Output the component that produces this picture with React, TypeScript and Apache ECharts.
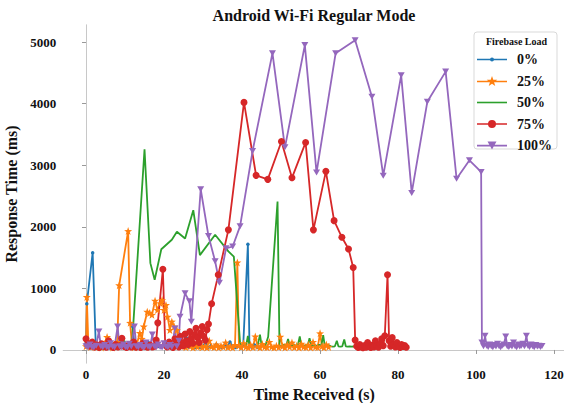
import React, { useEffect, useRef } from "react";
import * as echarts from "echarts";

const seriesNames = ["0%", "25%", "50%", "75%", "100%"];
const xTicks = [0, 20, 40, 60, 80, 100, 120];
const yTicks = [0, 1000, 2000, 3000, 4000, 5000];

const load0 = [
  [0, 110], [0.2, 750], [1.7, 1580], [2.5, 80], [3.2, 55], [3.9, 120], [4.6, 40], [5.3, 70], [6.0, 35], [6.8, 90],
  [7.5, 45], [8.2, 60], [8.9, 150], [9.6, 40], [10.3, 75], [11.0, 50], [11.6, 100], [12.0, 380], [12.4, 60], [13.1, 45],
  [13.8, 80], [14.5, 40], [15.2, 65], [15.9, 130], [16.6, 50], [17.3, 40], [18.0, 85], [18.7, 55], [19.4, 45], [20.1, 110],
  [20.8, 40], [21.5, 60], [22.2, 35], [22.9, 90], [23.6, 50], [24.3, 40], [25.0, 70], [25.7, 200], [26.4, 45], [27.1, 60],
  [27.8, 35], [28.5, 80], [29.2, 45], [29.9, 55], [30.6, 120], [31.3, 40], [32.0, 65], [32.7, 35], [33.4, 90], [34.1, 50],
  [34.8, 40], [35.5, 75], [36.2, 45], [36.9, 130], [37.6, 50], [38.3, 40], [39.0, 60], [39.7, 35], [40.3, 70], [41.5, 1715],
  [41.9, 60], [42.5, 45], [43.2, 80], [43.9, 40],
];

const load25 = [
  [0, 60], [0.2, 860], [0.6, 90], [1.2, 50], [1.9, 120], [2.6, 45], [3.3, 70], [4.0, 40], [4.7, 95], [5.4, 210],
  [6.1, 60], [6.8, 40], [7.5, 80], [8.0, 130], [8.5, 1050], [10.8, 1930], [11.3, 440], [11.8, 70], [12.4, 45], [13.0, 90],
  [13.8, 275], [14.3, 180], [14.8, 380], [15.7, 620], [16.3, 600], [16.9, 570], [17.7, 800], [18.3, 650], [19.0, 760], [19.5, 810],
  [20.0, 650], [20.5, 730], [20.9, 540], [21.5, 325], [22.0, 460], [22.6, 380], [23.3, 325], [23.8, 120], [24.4, 60], [25.0, 90],
  [25.6, 45], [26.2, 130], [26.8, 60], [27.4, 40], [28.0, 75], [28.6, 50], [29.2, 110], [29.8, 45], [30.4, 65], [31.0, 40],
  [31.6, 150], [32.2, 55], [32.8, 45], [33.4, 90], [34.0, 40], [34.6, 70], [35.2, 50], [35.8, 120], [36.4, 45], [37.0, 60],
  [37.6, 40], [38.2, 80], [38.8, 1420], [39.2, 70], [39.8, 45], [40.4, 110], [41.0, 50], [41.6, 40], [42.2, 85], [42.8, 45],
  [43.4, 220], [44.0, 60], [44.6, 40], [45.2, 95], [45.8, 50], [46.4, 45], [47.0, 130], [47.6, 50], [48.2, 40], [48.8, 70],
  [49.4, 45], [49.8, 215], [50.4, 60], [51.0, 40], [51.6, 90], [52.2, 50], [52.8, 120], [53.4, 45], [54.0, 70], [54.6, 40],
  [55.2, 100], [55.8, 50], [56.4, 45], [57.0, 85], [57.6, 40], [58.2, 130], [58.8, 50], [59.4, 45], [60.0, 270], [60.5, 60],
  [61.0, 40], [61.6, 90], [62.2, 50],
];

const load50 = [
  [0, 60], [0.8, 40], [1.5, 120], [2.2, 50], [3.0, 45], [3.8, 90], [4.5, 40], [5.3, 70], [6.0, 35], [6.8, 110],
  [7.5, 45], [8.3, 60], [9.0, 40], [9.8, 150], [10.5, 50], [11.2, 45], [11.8, 100], [15.0, 3260], [16.5, 1410], [17.6, 1140],
  [19.3, 1635], [22.0, 1790], [23.3, 1920], [25.4, 1810], [27.5, 2270], [29.2, 1540], [33.1, 1870], [36.5, 1600], [37.9, 1515], [39.5, 110],
  [40.0, 60], [40.5, 80], [41.0, 55], [41.5, 230], [41.9, 70], [42.5, 65], [43.0, 90], [43.5, 60], [44.0, 70], [44.6, 250],
  [45.0, 80], [45.5, 65], [46.0, 75], [46.7, 215], [49.1, 2410], [49.6, 70], [50.2, 60], [50.8, 85], [51.3, 65], [51.8, 180],
  [52.2, 70], [52.8, 60], [53.3, 90], [53.8, 65], [54.3, 75], [54.8, 220], [55.2, 70], [55.8, 60], [56.3, 80], [56.8, 65],
  [57.3, 190], [57.8, 70], [58.3, 60], [58.8, 75], [59.3, 65], [59.8, 85], [60.3, 60], [60.8, 240], [61.2, 70], [61.8, 60],
  [62.3, 75], [62.8, 60], [63.3, 55], [63.8, 60], [64.3, 150], [64.7, 60], [65.2, 55], [65.7, 60], [66.2, 170], [66.6, 60],
  [67.1, 55], [67.6, 60], [68.1, 55], [68.6, 60], [69.0, 55],
];

const load75 = [
  [0, 180], [0.5, 90], [1.0, 60], [1.6, 130], [2.2, 50], [2.8, 80], [3.4, 40], [4.0, 100], [4.6, 55], [5.2, 45],
  [5.8, 150], [6.4, 60], [7.0, 40], [7.6, 90], [8.2, 50], [8.8, 70], [9.2, 190], [9.8, 55], [10.4, 40], [11.0, 85],
  [11.6, 50], [12.2, 130], [12.8, 45], [13.4, 60], [14.0, 40], [14.6, 110], [15.2, 55], [15.8, 45], [16.4, 80], [17.0, 50],
  [17.6, 60], [18.0, 160], [18.4, 440], [19.7, 1310], [20.3, 90], [20.8, 50], [21.3, 130], [21.8, 60], [22.3, 40], [22.8, 180],
  [23.3, 80], [23.8, 50], [24.2, 220], [24.6, 120], [25.0, 70], [25.4, 260], [25.8, 150], [26.2, 90], [26.6, 300], [27.0, 180],
  [27.4, 110], [27.8, 250], [28.2, 350], [28.6, 200], [29.0, 120], [29.4, 280], [29.8, 380], [30.2, 220], [30.6, 160], [31.0, 330],
  [31.4, 420], [32.2, 750], [33.9, 1220], [36.5, 1950], [40.5, 4020], [43.6, 2835], [46.6, 2770], [50.1, 3385], [52.8, 2795], [56.3, 3370],
  [58.3, 1950], [61.5, 2900], [63.6, 2100], [65.6, 1830], [67.3, 1640], [68.5, 1340], [69.0, 160], [69.4, 60], [69.8, 40], [70.2, 90],
  [70.6, 50], [71.0, 35], [71.4, 70], [71.8, 45], [72.2, 120], [72.6, 55], [73.0, 40], [73.4, 80], [73.8, 50], [74.2, 150],
  [74.6, 60], [75.0, 45], [75.4, 95], [75.8, 180], [76.2, 70], [76.6, 230], [77.3, 1220], [77.7, 150], [78.1, 60], [78.5, 200],
  [78.9, 90], [79.3, 50], [79.7, 120], [80.1, 60], [80.5, 40], [80.9, 90], [81.3, 55], [81.7, 70], [82.1, 45],
];

const load100 = [
  [0, 60], [0.5, 45], [1.0, 90], [1.5, 50], [2.0, 40], [2.6, 70], [3.3, 300], [3.8, 60], [4.3, 45], [4.8, 80],
  [5.3, 50], [5.8, 40], [6.3, 110], [6.8, 55], [7.3, 45], [8.1, 380], [8.6, 60], [9.1, 45], [9.6, 90], [10.1, 50],
  [10.6, 40], [11.1, 100], [11.6, 55], [12.4, 380], [12.9, 60], [13.4, 45], [13.9, 80], [14.4, 50], [14.9, 40], [15.4, 120],
  [15.9, 55], [16.4, 45], [17.0, 250], [17.5, 60], [18.0, 45], [18.5, 90], [19.0, 50], [19.5, 40], [20.0, 110], [20.5, 55],
  [21.0, 45], [21.5, 80], [22.0, 50], [22.8, 350], [23.3, 60], [23.8, 150], [24.1, 540], [25.4, 920], [26.5, 790], [27.0, 460],
  [29.4, 2610], [31.4, 1850], [33.1, 1440], [34.2, 1090], [35.9, 1650], [37.6, 1680], [39.5, 2010], [42.7, 3230], [47.8, 4820], [51.0, 3290],
  [56.1, 4950], [59.1, 2880], [64.0, 4820], [69.0, 5030], [73.3, 4110], [76.2, 2830], [80.8, 4460], [83.5, 2550], [87.5, 4030], [92.2, 4520],
  [95.0, 2780], [98.3, 3080], [101.3, 2890], [101.5, 120], [101.9, 60], [102.3, 230], [102.7, 70], [103.1, 50], [103.5, 90], [103.9, 60],
  [104.3, 45], [104.7, 80], [105.1, 55], [105.5, 100], [105.9, 60], [106.3, 45], [106.7, 70], [107.1, 90], [107.6, 220], [108.0, 60],
  [108.4, 50], [108.8, 80], [109.2, 55], [109.6, 120], [110.0, 60], [110.4, 45], [110.8, 90], [111.2, 55], [111.6, 70], [112.0, 100],
  [112.4, 60], [112.9, 230], [113.3, 70], [113.7, 50], [114.1, 90], [114.5, 60], [114.9, 45], [115.3, 80], [115.7, 55], [116.1, 70],
  [116.5, 50], [116.9, 65],
];

const COLORS = ["#1f77b4", "#ff7f0e", "#2ca02c", "#d62728", "#9467bd"];
const SERIF = "'Liberation Serif', 'Times New Roman', serif";

const STAR =
  "path://M0,-10 L2.351,-3.236 L9.511,-3.09 L3.804,1.236 L5.878,8.09 L0,4 L-5.878,8.09 L-3.804,1.236 L-9.511,-3.09 L-2.351,-3.236 Z";
const TRI_DOWN = "path://M0,0 L10,0 L5,8.66 Z";

const BAR = "M0,5.2 L30,5.2 L30,6.8 L0,6.8 Z";
const legendIcons = [
  "path://" + BAR + " M17,6 A2,2 0 1 1 13,6 A2,2 0 1 1 17,6 Z",
  "path://" + BAR +
    " M15,0.5 L16.29,4.22 L20.23,4.3 L17.09,6.68 L18.23,10.45 L15,8.2 L11.77,10.45 L12.91,6.68 L9.77,4.3 L13.71,4.22 Z",
  "path://" + BAR,
  "path://" + BAR + " M19,6 A4,4 0 1 1 11,6 A4,4 0 1 1 19,6 Z",
  "path://" + BAR + " M10.5,2 L19.5,2 L15,9.8 Z",
];

export default function App() {
  const ref = useRef<HTMLDivElement>(null);
  useEffect(() => {
    if (!ref.current) return;
    const chart = echarts.init(ref.current, null, { renderer: "svg" });
    const datasets = [load0, load25, load50, load75, load100];
    const symbols = ["circle", STAR, "none", "circle", TRI_DOWN];
    const sizes: any[] = [3.5, 8, 0, 7, [7, 6]];
    const axisLineStyle = { color: "#c8c8c8", width: 1 };
    const tickFont = { fontFamily: SERIF, fontWeight: "bold", fontSize: 13, color: "#111" };
    chart.setOption({
      animation: false,
      backgroundColor: "#ffffff",
      title: {
        text: "Android Wi-Fi Regular Mode",
        left: 314,
        textAlign: "center",
        top: 7,
        padding: 0,
        textStyle: { fontFamily: SERIF, fontWeight: "bold", fontSize: 16, color: "#111" },
      },
      grid: { left: 63.2, top: 24.8, width: 502, height: 338.4, outerBoundsMode: "none", containLabel: false },
      xAxis: {
        type: "value",
        min: -5.85,
        max: 122.85,
        name: "Time Received (s)",
        nameLocation: "middle",
        nameGap: 20,
        nameTextStyle: { fontFamily: SERIF, fontWeight: "bold", fontSize: 16, color: "#111" },
        axisLine: { show: true, lineStyle: axisLineStyle },
        axisTick: { show: true, length: 4, lineStyle: { color: "#999" }, customValues: xTicks },
        axisLabel: { customValues: xTicks, margin: 5, formatter: (v: number) => String(v), ...tickFont },
        splitLine: { show: false },
      },
      yAxis: {
        type: "value",
        min: -215,
        max: 5280,
        name: "Response Time (ms)",
        nameLocation: "middle",
        nameGap: 29,
        nameTextStyle: { fontFamily: SERIF, fontWeight: "bold", fontSize: 16, color: "#111" },
        axisLine: { show: true, lineStyle: axisLineStyle },
        axisTick: { show: true, length: 4, lineStyle: { color: "#999" }, customValues: yTicks },
        axisLabel: { customValues: yTicks, margin: 7, formatter: (v: number) => String(v), ...tickFont },
        splitLine: { show: false },
      },
      legend: {
        left: 477,
        top: 52.5,
        orient: "vertical",
        itemWidth: 30,
        itemHeight: 12,
        itemGap: 7.5,
        symbolKeepAspect: true,
        padding: 0,
        itemStyle: { borderWidth: 0 },
        textStyle: {
          fontFamily: SERIF,
          fontWeight: "bold",
          fontSize: 14,
          color: "#111",
          padding: [0, 0, 0, 5],
        },
        data: seriesNames.map((n, i) => ({ name: n, icon: legendIcons[i], itemStyle: { color: COLORS[i] } })),
      },
      graphic: [
        {
          type: "rect",
          shape: { x: 474, y: 32, width: 83, height: 117, r: 3 },
          style: { fill: "#ffffff", stroke: "#d9d9d9", lineWidth: 1 },
          z: 3,
        },
        {
          type: "text",
          x: 516.5,
          y: 41,
          z: 4,
          style: {
            text: "Firebase Load",
            fontFamily: SERIF,
            fontWeight: "bold",
            fontSize: 10,
            fill: "#111",
            textAlign: "center",
            textVerticalAlign: "middle",
          },
        },
      ],
      series: seriesNames.map((n, i) => ({
        name: n,
        type: "line",
        data: datasets[i],
        symbol: symbols[i],
        symbolSize: sizes[i],
        showSymbol: i !== 2,
        lineStyle: { width: 1.8, color: COLORS[i] },
        itemStyle: { color: COLORS[i] },
        emphasis: { disabled: true },
      })),
    });
    return () => chart.dispose();
  }, []);
  return (
    <div
      ref={ref}
      style={{ position: "fixed", left: 0, top: 0, width: 564, height: 403, background: "#fff" }}
    />
  );
}
